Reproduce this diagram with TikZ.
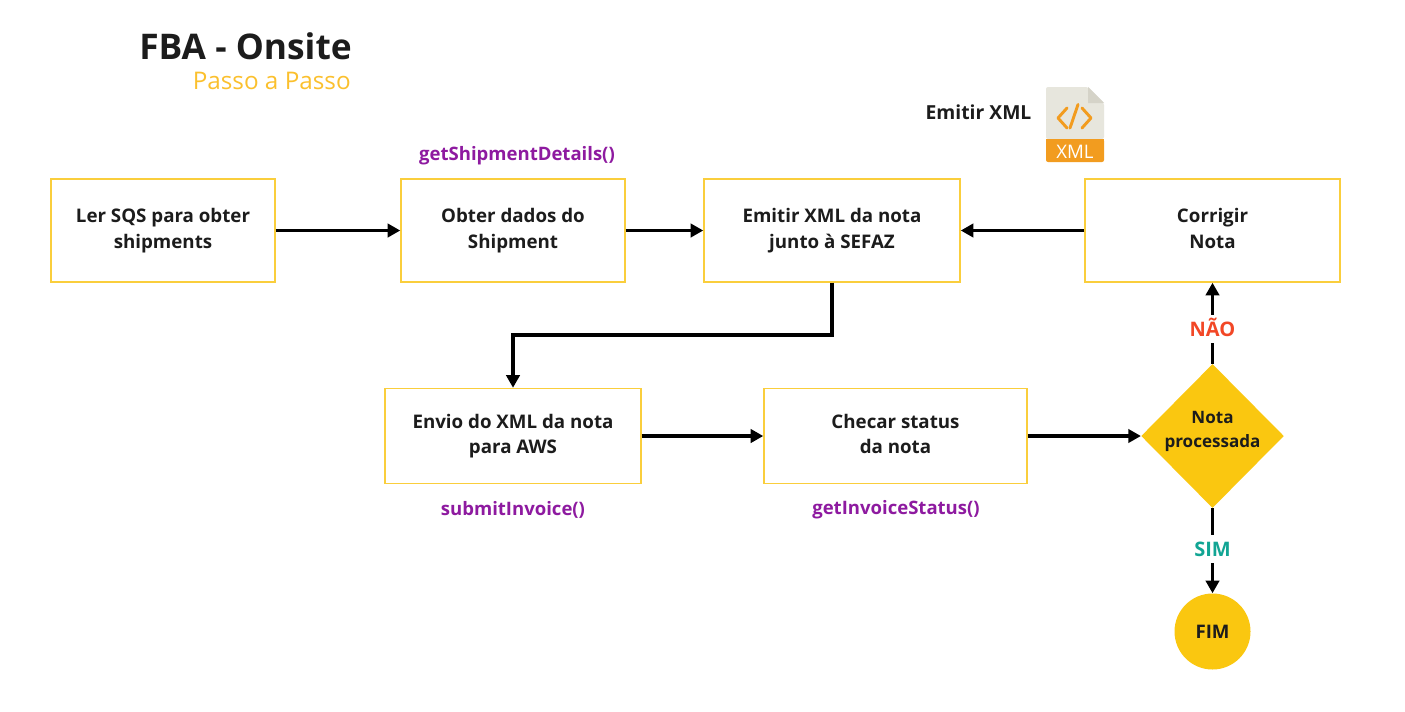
\documentclass[tikz,border=0pt]{standalone}
\usepackage{fontspec}
\setmainfont{Open Sans}
\usetikzlibrary{arrows.meta,shapes.geometric}
\definecolor{ink}{HTML}{1C1C1C}
\definecolor{gold}{HTML}{FAC710}
\definecolor{boxline}{HTML}{FACE3C}
\definecolor{sub}{HTML}{FBC02D}
\definecolor{purp}{HTML}{8E1AA0}
\definecolor{nao}{HTML}{F24726}
\definecolor{sim}{HTML}{12A594}
\definecolor{paper}{HTML}{E7E6DD}
\definecolor{foldc}{HTML}{D5D3C8}
\definecolor{orangeicon}{HTML}{F29C1F}
\tikzset{
  stepbox/.style={draw=boxline,line width=1.1pt,fill=white,align=center,text=ink,font=\fontsize{14.05}{19}\selectfont\bfseries,inner sep=0pt},
  conn/.style={draw=black,line width=2.7pt,-{Triangle[length=9.5pt,width=10pt]},shorten >=0pt},
  func/.style={text=purp,font=\fontsize{13.9}{17}\selectfont\bfseries,inner sep=0pt},
  lab/.style={font=\fontsize{15}{17}\selectfont\bfseries,fill=white,inner sep=0pt,text height=16pt,text depth=5pt},
}
\begin{document}
\begin{tikzpicture}[x=0.75pt,y=-0.75pt]
\useasboundingbox (0,0) rectangle (1405,711);
\fill[white] (0,0) rectangle (1405,711);
\node[anchor=base east,text=ink,font=\fontsize{26.5}{30}\selectfont\bfseries,inner sep=0pt] (title) at (352,59) {FBA - Onsite};
\node[anchor=base east,text=sub,font=\fontsize{18.2}{20}\selectfont,inner sep=0pt] (subtitle) at (351,89) {Passo a Passo};

\node[stepbox,minimum width=168pt,minimum height=77.25pt] (a) at (163,230.5) {\strut Ler SQS para obter\\\strut shipments};
\node[stepbox,minimum width=168pt,minimum height=77.25pt] (b) at (513,230.5) {\strut Obter dados do\\\strut Shipment};
\node[stepbox,minimum width=192pt,minimum height=77.25pt] (c) at (832,230.5) {\strut Emitir XML da nota\\\strut junto à SEFAZ};
\node[stepbox,minimum width=191.25pt,minimum height=77.25pt] (d) at (1212.5,230.5) {\strut Corrigir\\\strut Nota};
\node[stepbox,minimum width=192pt,minimum height=71.25pt] (e) at (513,436) {\strut Envio do XML da nota\\\strut para AWS};
\node[stepbox,minimum width=197.25pt,minimum height=71.25pt] (f) at (895.5,436) {\strut Checar status\\\strut da nota};
\node[diamond,fill=gold,inner sep=-4pt,text depth=10pt,minimum width=107pt,minimum height=108pt,align=center,text=ink,font=\fontsize{12.8}{18}\selectfont\bfseries] (g) at (1212.5,436) {Nota\\processada};
\node[circle,fill=gold,inner sep=0pt,minimum size=57pt,text=ink,font=\fontsize{14}{17}\selectfont\bfseries] (h) at (1212.5,631.5) {FIM};

\node[func] (fb) at (517,155.5) {getShipmentDetails()};
\node[func] (fe) at (513,510) {submitInvoice()};
\node[func] (ff) at (896,510) {getInvoiceStatus()};
\node[text=ink,font=\fontsize{14.5}{17}\selectfont\bfseries,inner sep=0pt] (emit) at (978.5,112.5) {Emitir XML};

\draw[conn] (a.east) -- (b.west);
\draw[conn] (b.east) -- (c.west);
\draw[conn] (d.west) -- (c.east);
\draw[conn] (c.south) |- (513,335) -- (e.north);
\draw[conn] (e.east) -- (f.west);
\draw[conn] (f.east) -- (g.west);
\draw[conn] (g.north) -- node[lab,text=nao,pos=0.43] (no) {NÃO} (d.south);
\draw[conn] (g.south) -- node[lab,text=sim,pos=0.477] (yes) {SIM} (h.north);

% XML file icon
\fill[paper,rounded corners=1.5pt] (1046,139) -- (1046,87) -- (1088,87) -- (1104,103) -- (1104,139) -- cycle;
\fill[foldc] (1088,87) -- (1104,103) -- (1088,103) -- cycle;
\fill[orangeicon,rounded corners=1.5pt] (1046,139) rectangle (1104,162);
\fill[orangeicon] (1046,139) rectangle (1104,150);
\draw[orangeicon,line width=2.2pt,line cap=round,line join=round] (1067,108) -- (1058,118) -- (1067,128);
\draw[orangeicon,line width=2.2pt,line cap=round,line join=round] (1082,108) -- (1091,118) -- (1082,128);
\draw[orangeicon,line width=2.2pt,line cap=round] (1078,104.5) -- (1070,128);
\node[text=white,font=\fontsize{14}{15}\selectfont,inner sep=0pt] (xml) at (1075,151.5) {XML};
\end{tikzpicture}
\end{document}
